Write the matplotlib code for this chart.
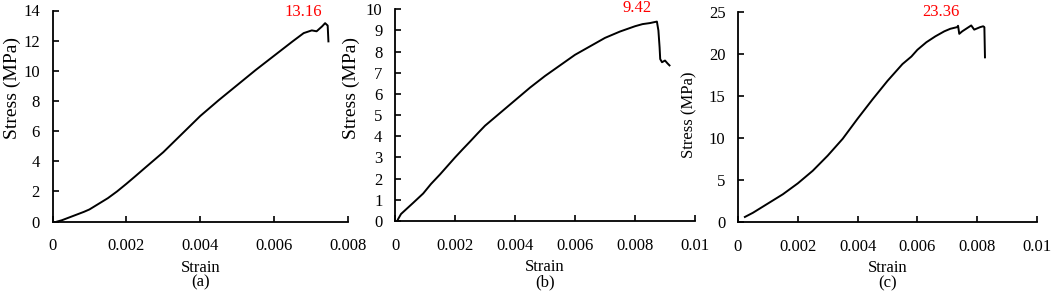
import matplotlib
matplotlib.use("Agg")
import matplotlib.pyplot as plt

plt.rcParams["font.family"] = ["Liberation Serif", "DejaVu Serif"]

# (a) stress-strain
strain_a = [0.00013, 0.00025, 0.0004, 0.00055, 0.0007, 0.00085, 0.001, 0.0012,
            0.0015, 0.00175, 0.002, 0.00225, 0.0025, 0.003, 0.0035,
            0.004, 0.0045, 0.005, 0.0055, 0.006, 0.0065, 0.0068, 0.00702, 0.00715,
            0.0073, 0.00738, 0.00745, 0.00747]
stress_a = [0.0, 0.08, 0.22, 0.36, 0.5, 0.64, 0.8, 1.1,
            1.55, 2.0, 2.5, 3.02, 3.55, 4.6, 5.8,
            7.0, 8.05, 9.05, 10.05, 11.0, 11.95, 12.5, 12.68, 12.62,
            12.95, 13.16, 13.0, 11.95]

# (b)
strain_b = [0.0001, 0.0002, 0.00033, 0.0006, 0.00094, 0.0012, 0.0015, 0.00175,
            0.002, 0.00225, 0.0025, 0.00275, 0.003,
            0.0035, 0.004, 0.0045, 0.005, 0.0055, 0.006, 0.0065, 0.007, 0.0075,
            0.008, 0.00825, 0.0085, 0.00873, 0.00878, 0.00882, 0.00884, 0.0089,
            0.009, 0.00908, 0.00915]
stress_b = [0.08, 0.33, 0.5, 0.85, 1.3, 1.75, 2.2, 2.6,
            3.0, 3.38, 3.75, 4.13, 4.5,
            5.1, 5.7, 6.3, 6.85, 7.35, 7.85, 8.25, 8.65, 8.95,
            9.2, 9.3, 9.35, 9.42, 9.0, 8.2, 7.65, 7.5,
            7.58, 7.45, 7.35]

# (c)
strain_c = [0.00023, 0.0005, 0.001, 0.0015, 0.002, 0.0025, 0.003, 0.0035, 0.004,
            0.0045, 0.005, 0.0055, 0.0058, 0.006, 0.0063, 0.0066, 0.0069, 0.0071,
            0.00733, 0.00736, 0.0074, 0.0075, 0.0078, 0.0079, 0.0081, 0.0082,
            0.00824, 0.00826]
stress_c = [0.6, 1.1, 2.2, 3.3, 4.6, 6.1, 7.9, 9.9, 12.3,
            14.6, 16.8, 18.8, 19.7, 20.5, 21.4, 22.1, 22.7, 23.0,
            23.2, 23.36, 22.4, 22.7, 23.4, 22.9, 23.2, 23.3,
            23.2, 19.6]

x_ticks_a = [0, 0.002, 0.004, 0.006, 0.008]
x_labels_a = ["0", "0.002", "0.004", "0.006", "0.008"]
x_ticks_bc = [0, 0.002, 0.004, 0.006, 0.008, 0.01]
x_labels_bc = ["0", "0.002", "0.004", "0.006", "0.008", "0.01"]
y_ticks_a = [0, 2, 4, 6, 8, 10, 12, 14]
y_ticks_b = [0, 1, 2, 3, 4, 5, 6, 7, 8, 9, 10]
y_ticks_c = [0, 5, 10, 15, 20, 25]

peaks = ["13.16", "9.42", "23.36"]
peak_pos = [(0.00678, 13.92), (0.00806, 10.08), (0.00679, 25.0)]
panel_names = ["(a)", "(b)", "(c)"]

fig = plt.figure(figsize=(10.52, 2.94), dpi=100)
W, H = 1052, 294
boxes = [(52.5, 348, 10.5, 221.5), (395, 695, 9.3, 221), (738, 1037, 12, 222)]
axes = [fig.add_axes([l / W, 1 - b / H, (r - l) / W, (b - t) / H]) for l, r, t, b in boxes]

data = [(strain_a, stress_a, x_ticks_a, x_labels_a, y_ticks_a),
        (strain_b, stress_b, x_ticks_bc, x_labels_bc, y_ticks_b),
        (strain_c, stress_c, x_ticks_bc, x_labels_bc, y_ticks_c)]
ylabel_size = [14, 14, 12]
ylabel_coords = [(-0.107, 0.635), (-0.117, 0.626), (-0.137, 0.51)]

for i, ax in enumerate(axes):
    sx, sy, xt, xl, yt = data[i]
    ax.plot(sx, sy, color="black", lw=1.4)
    ax.set_xlim(xt[0], xt[-1])
    ax.set_ylim(yt[0], yt[-1])
    ax.set_xticks(xt)
    ax.set_xticklabels(xl)
    ax.set_yticks(yt)
    for s in ["top", "right"]:
        ax.spines[s].set_visible(False)
    for s in ["left", "bottom"]:
        ax.spines[s].set_linewidth(1.3)
    ax.tick_params(direction="in", length=4, width=1.2, labelsize=12)
    ax.tick_params(axis="x", pad=12)
    ax.tick_params(axis="y", pad=9)
    ax.set_xlabel("Strain", fontsize=12, labelpad=4)
    ax.set_ylabel("Stress (MPa)", fontsize=ylabel_size[i])
    ax.yaxis.set_label_coords(*ylabel_coords[i])
    ax.text(0.5, -0.29, panel_names[i], transform=ax.transAxes, ha="center",
            va="center", fontsize=12)
    px, py = peak_pos[i]
    ax.text(px, py, peaks[i], color="red", ha="center", va="center",
            fontsize=12, clip_on=False)

fig.savefig("out.png", dpi=100)
